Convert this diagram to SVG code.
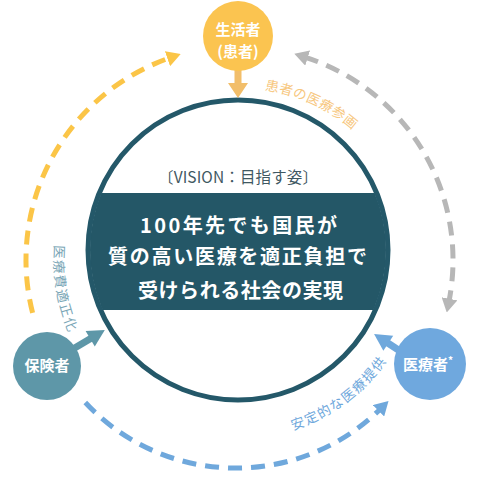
<svg xmlns="http://www.w3.org/2000/svg" width="478" height="480" viewBox="0 0 478 480">
<style>
.jp{font-family:"Noto Sans CJK JP","Noto Sans",sans-serif}
.node{font-family:"Noto Sans CJK JP","Noto Sans",sans-serif;font-weight:bold;fill:#fff;font-size:15px;text-anchor:middle}
.main{font-family:"Noto Sans CJK JP","Noto Sans",sans-serif;font-weight:bold;fill:#fff;font-size:20px}
.lbl{font-family:"Noto Sans CJK JP","Noto Sans",sans-serif;font-size:13.5px}
.dash{fill:none;stroke-width:5;stroke-dasharray:14 9}
</style>
<defs>
<marker id="hO" viewBox="0 0 14 16" refX="3" refY="8" markerWidth="14" markerHeight="16" markerUnits="userSpaceOnUse" orient="auto-start-reverse"><path d="M0,0 L14,8 L0,16 z" fill="#FBC547"/></marker>
<marker id="hG" viewBox="0 0 14 16" refX="3" refY="8" markerWidth="14" markerHeight="16" markerUnits="userSpaceOnUse" orient="auto-start-reverse"><path d="M0,0 L14,8 L0,16 z" fill="#B7B7B7"/></marker>
<marker id="hB" viewBox="0 0 14 16" refX="3" refY="8" markerWidth="14" markerHeight="16" markerUnits="userSpaceOnUse" orient="auto-start-reverse"><path d="M0,0 L14,8 L0,16 z" fill="#6FA8DC"/></marker>
<clipPath id="cc"><circle cx="238" cy="250" r="148"/></clipPath>
<path id="pTop" d="M264.8,89.8 A172,172 0 0 1 371.8,149.4"/>
<path id="pLeft" d="M54.6,245.1 A186,186 0 0 0 97.5,379.6"/>
<path id="pBot" d="M292.9,430 A178,178 0 0 0 407.3,320.9"/>
</defs>

<g id="vision">
<circle cx="238" cy="250" r="150" fill="#fff"/>
<rect x="80" y="193" width="320" height="117" fill="#245767" clip-path="url(#cc)"/>
<circle cx="238" cy="250" r="150" fill="none" stroke="#245869" stroke-width="5"/>
<text x="158" y="182.5" class="jp" font-size="15.5" fill="#3F5862" textLength="160" lengthAdjust="spacing">〔VISION：目指す姿〕</text>
<text x="140" y="232.5" class="main" textLength="197" lengthAdjust="spacing">100年先でも国民が</text>
<text x="108" y="264" class="main" textLength="259" lengthAdjust="spacing">質の高い医療を適正負担で</text>
<text x="138" y="297.5" class="main" textLength="205" lengthAdjust="spacing">受けられる社会の実現</text>
</g>

<g id="connectors">
<path class="dash" stroke="#FBC547" d="M32.6,312.9 A214,214 0 0 1 170.3,57.7" marker-end="url(#hO)"/>
<path class="dash" stroke="#B7B7B7" d="M304.8,57.1 A213,213 0 0 1 448.9,301.7" marker-start="url(#hG)" marker-end="url(#hG)"/>
<path class="dash" stroke="#6FA8DC" d="M85.3,402.5 A206,206 0 0 0 380.7,408.7" marker-end="url(#hB)"/>
<polygon fill="#F2BE6A" points="234.5,70 241.5,70 241.5,83 248,83 238,98 228,83 234.5,83"/>
<g transform="translate(73,349) rotate(-30.7)"><rect x="0" y="-3.5" width="22" height="7" fill="#5E97A8"/><polygon points="20,-9 37,0 20,9" fill="#5E97A8"/></g>
<g transform="translate(400,351) rotate(-146.8)"><rect x="0" y="-3.5" width="16" height="7" fill="#6FA8DC"/><polygon points="14,-9 31,0 14,9" fill="#6FA8DC"/></g>
<text class="lbl" fill="#F7C77E" letter-spacing="0.5"><textPath href="#pTop">患者の医療参画</textPath></text>
<text class="lbl" fill="#7AA6B6" letter-spacing="1.6"><textPath href="#pLeft">医療費適正化</textPath></text>
<text class="lbl" fill="#6FA8DC" letter-spacing="1.4"><textPath href="#pBot">安定的な医療提供</textPath></text>
</g>

<g id="node-patient">
<circle cx="238" cy="36" r="35" fill="#FBC450"/>
<text x="238" y="34.5" class="node">生活者</text>
<text x="238" y="56.5" class="node">(患者)</text>
</g>

<g id="node-insurer">
<circle cx="47" cy="366" r="34" fill="#5E97A8"/>
<text x="47" y="371" class="node" font-size="16">保険者</text>
</g>

<g id="node-provider">
<circle cx="430" cy="364" r="36" fill="#6FA8DE"/>
<text x="428" y="369.5" class="node" font-size="16">医療者<tspan font-size="10" dy="-6">*</tspan></text>
</g>
</svg>
